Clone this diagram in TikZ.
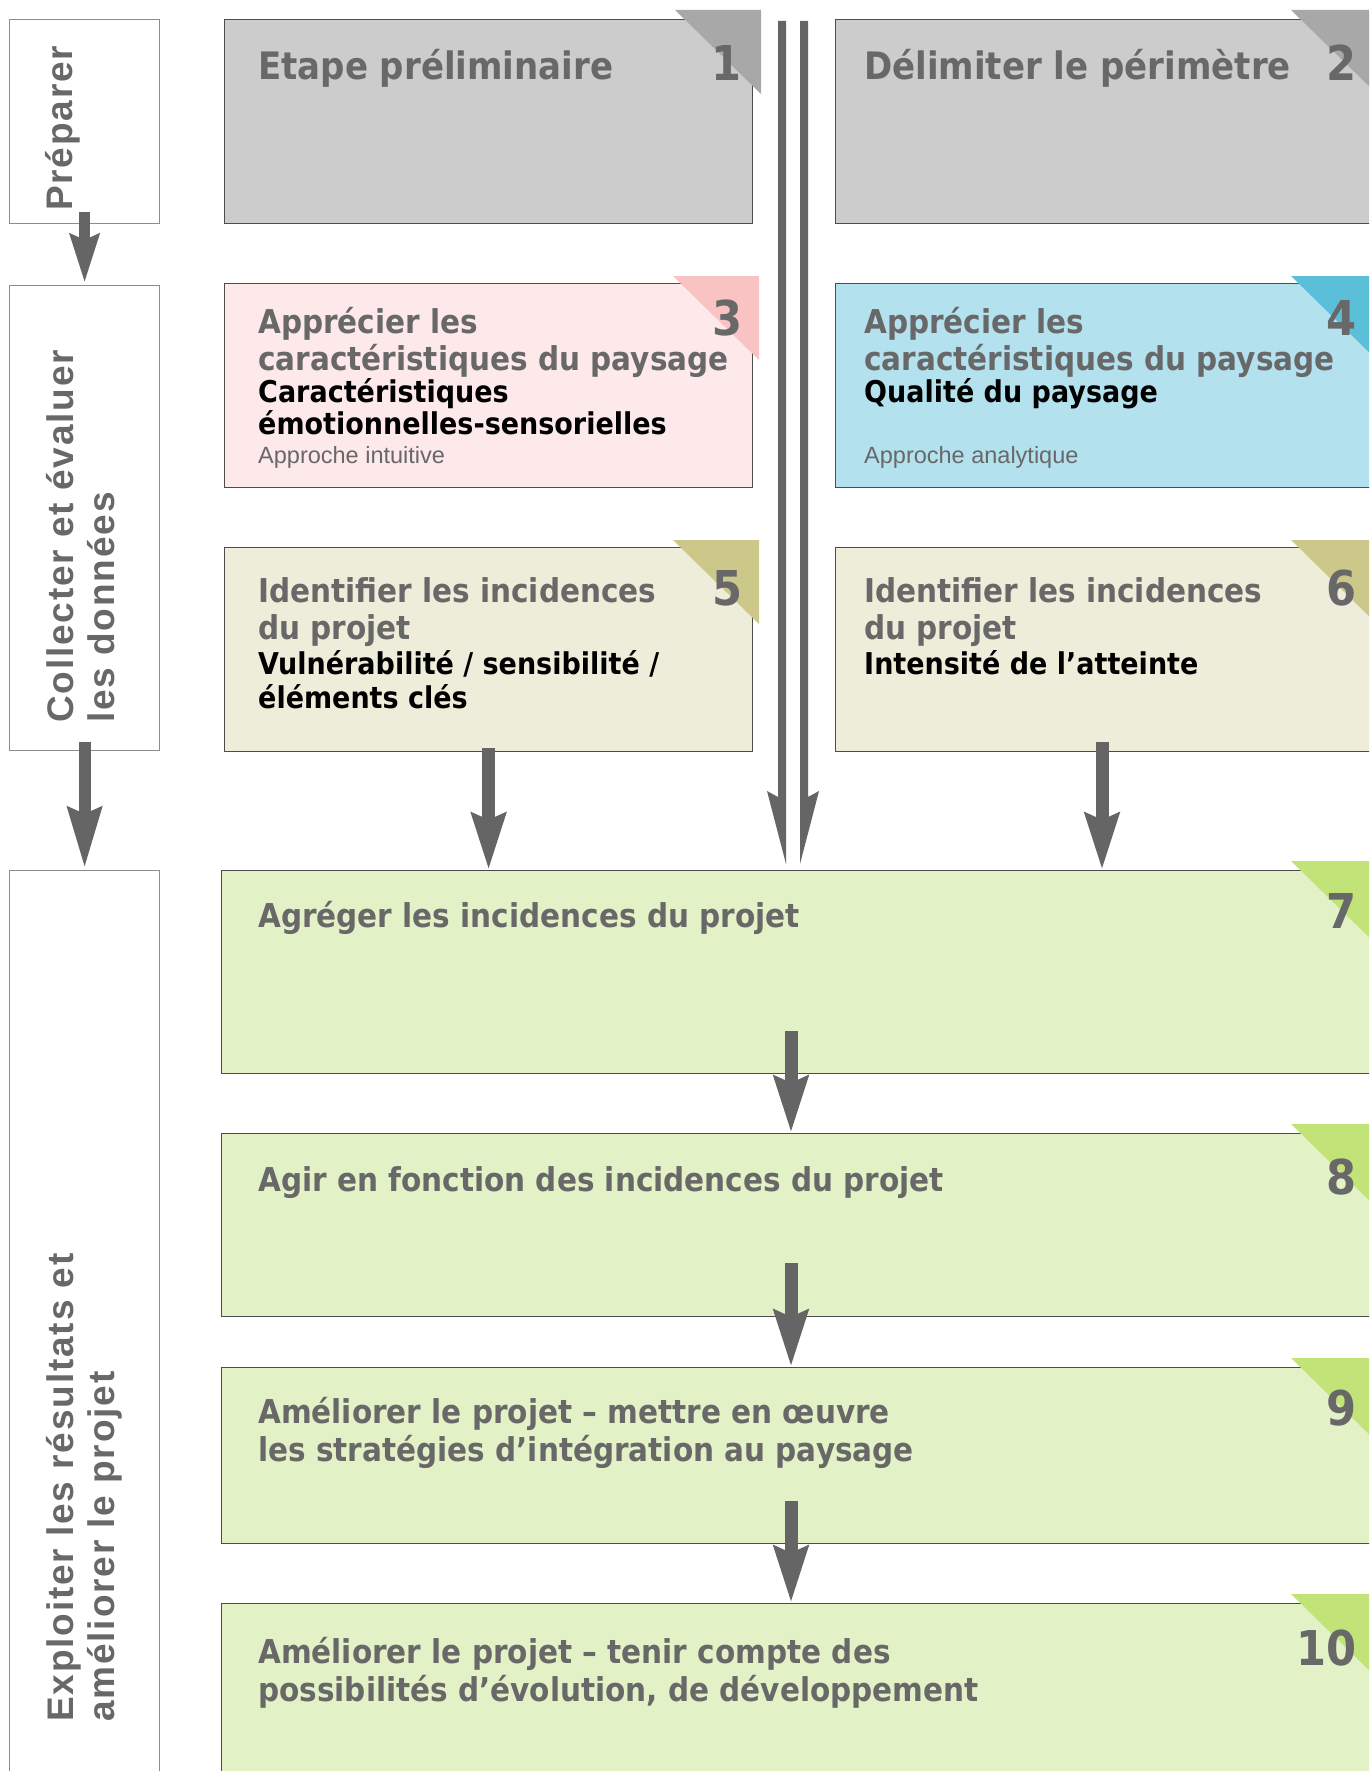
\documentclass[tikz,border=0pt]{standalone}
\usepackage{fontspec}
\usetikzlibrary{arrows.meta}
\newfontfamily\ttlfont[FakeStretch=0.9]{DejaVu Sans}
\newfontfamily\lblfont[LetterSpace=5]{Liberation Sans}
\newfontfamily\smlfont{Liberation Sans}
\definecolor{txtgray}{HTML}{686868}
\definecolor{arrgray}{HTML}{656565}
\definecolor{grayfill}{HTML}{CCCCCC}
\definecolor{graytri}{HTML}{A8A8A8}
\definecolor{pinkfill}{HTML}{FDE9E9}
\definecolor{pinktri}{HTML}{F9C3C3}
\definecolor{bluefill}{HTML}{B3E1EE}
\definecolor{bluetri}{HTML}{5BBFD9}
\definecolor{beigefill}{HTML}{EDEDDA}
\definecolor{beigetri}{HTML}{CCC88A}
\definecolor{greenfill}{HTML}{E3F2C6}
\definecolor{greentri}{HTML}{C2E378}
\begin{document}
\begin{tikzpicture}[x=1pt,y=-1pt,
  box/.style={draw=black!70, line width=1.2pt, inner sep=0pt, anchor=north west},
  lbox/.style={draw=black!45, line width=1.2pt, fill=white, inner sep=0pt, anchor=north west},
  ttl/.style={anchor=base west, inner sep=0pt, text=txtgray, font=\ttlfont\bfseries\fontsize{32.8}{36}\selectfont},
  bigttl/.style={anchor=base west, inner sep=0pt, text=txtgray, font=\ttlfont\bfseries\fontsize{37.8}{40}\selectfont},
  subttl/.style={anchor=base west, inner sep=0pt, text=black, font=\ttlfont\bfseries\fontsize{30}{32}\selectfont},
  smltxt/.style={anchor=base west, inner sep=0pt, text=txtgray, font=\smlfont\fontsize{23.5}{26}\selectfont},
  numtxt/.style={anchor=base east, inner sep=0pt, text=txtgray, font=\ttlfont\bfseries\fontsize{48}{50}\selectfont},
  lbltxt/.style={anchor=base west, rotate=90, inner sep=0pt, text=txtgray, font=\lblfont\bfseries\fontsize{37}{42}\selectfont},
  barrow/.style={draw=arrgray, line width=13pt, -{Stealth[length=56pt, width=33pt, inset=6pt]}}
]
\useasboundingbox (0,0) rectangle (1369,1771);
\clip (0,0) rectangle (1369,1771);
\fill[white] (0,0) rectangle (1369,1771);

% left phase boxes
\node[lbox, minimum width=150pt, minimum height=204pt] (l1) at (9,19) {};
\node[lbox, minimum width=150pt, minimum height=465pt] (l2) at (9,285) {};
\node[lbox, minimum width=150pt, minimum height=930pt] (l3) at (9,870) {};

\node[lbltxt] (p1) at (72,211) {Préparer};
\node[lbltxt] (p2a) at (73,723) {Collecter et évaluer};
\node[lbltxt] (p2b) at (114,723) {les données};
\node[lbltxt] (p3a) at (73,1722) {Exploiter les résultats et};
\node[lbltxt] (p3b) at (114,1722) {améliorer le projet};

% main boxes
\node[box, fill=grayfill, minimum width=528pt, minimum height=204pt] (b1) at (224,19) {};
\node[box, fill=grayfill, minimum width=560pt, minimum height=204pt] (b2) at (835,19) {};
\node[box, fill=pinkfill, minimum width=528pt, minimum height=204pt] (b3) at (224,283) {};
\node[box, fill=bluefill, minimum width=560pt, minimum height=204pt] (b4) at (835,283) {};
\node[box, fill=beigefill, minimum width=528pt, minimum height=204pt] (b5) at (224,547) {};
\node[box, fill=beigefill, minimum width=560pt, minimum height=204pt] (b6) at (835,547) {};
\node[box, fill=greenfill, minimum width=1180pt, minimum height=203pt] (b7) at (221,870) {};
\node[box, fill=greenfill, minimum width=1180pt, minimum height=183pt] (b8) at (221,1133) {};
\node[box, fill=greenfill, minimum width=1180pt, minimum height=176pt] (b9) at (221,1367) {};
\node[box, fill=greenfill, minimum width=1180pt, minimum height=220pt] (b10) at (221,1603) {};

% corner triangles
\fill[graytri] ([xshift=451pt,yshift=9pt]b1.north west) -- ++(86,0) -- ++(0,84) -- cycle;
\fill[graytri] ([xshift=456pt,yshift=9pt]b2.north west) -- ++(86,0) -- ++(0,84) -- cycle;
\fill[pinktri] ([xshift=449pt,yshift=7pt]b3.north west) -- ++(86,0) -- ++(0,84) -- cycle;
\fill[bluetri] ([xshift=456pt,yshift=7pt]b4.north west) -- ++(86,0) -- ++(0,84) -- cycle;
\fill[beigetri] ([xshift=449pt,yshift=7pt]b5.north west) -- ++(86,0) -- ++(0,84) -- cycle;
\fill[beigetri] ([xshift=456pt,yshift=7pt]b6.north west) -- ++(86,0) -- ++(0,84) -- cycle;
\fill[greentri] ([xshift=1070pt,yshift=9pt]b7.north west) -- ++(86,0) -- ++(0,84) -- cycle;
\fill[greentri] ([xshift=1070pt,yshift=9pt]b8.north west) -- ++(86,0) -- ++(0,84) -- cycle;
\fill[greentri] ([xshift=1070pt,yshift=9pt]b9.north west) -- ++(86,0) -- ++(0,84) -- cycle;
\fill[greentri] ([xshift=1070pt,yshift=9pt]b10.north west) -- ++(86,0) -- ++(0,84) -- cycle;

% numbers
\node[numtxt] (n1) at (742,81) {1};
\node[numtxt] (n2) at (1357,81) {2};
\node[numtxt] (n3) at (743,335) {3};
\node[numtxt] (n4) at (1357,335) {4};
\node[numtxt] (n5) at (743,605) {5};
\node[numtxt] (n6) at (1357,605) {6};
\node[numtxt] (n7) at (1357,928) {7};
\node[numtxt] (n8) at (1357,1194) {8};
\node[numtxt] (n9) at (1357,1425) {9};
\node[numtxt] (n10) at (1357,1665) {10};

% texts
\node[bigttl] (t1) at (258,80) {Etape préliminaire};
\node[bigttl] (t2) at (864,80) {Délimiter le périmètre};

\node[ttl] (t3a) at (258,333) {Apprécier les};
\node[ttl] (t3b) at (258,370) {caractéristiques du paysage};
\node[subttl] (t3c) at (258,402) {Caractéristiques};
\node[subttl] (t3d) at (258,434) {émotionnelles-sensorielles};
\node[smltxt] (t3e) at (258,463) {Approche intuitive};

\node[ttl] (t4a) at (864,333) {Apprécier les};
\node[ttl] (t4b) at (864,370) {caractéristiques du paysage};
\node[subttl] (t4c) at (864,402) {Qualité du paysage};
\node[smltxt] (t4e) at (864,463) {Approche analytique};

\node[ttl] (t5a) at (258,602) {Identifier les incidences};
\node[ttl] (t5b) at (258,639) {du projet};
\node[subttl] (t5c) at (258,674) {Vulnérabilité / sensibilité /};
\node[subttl] (t5d) at (258,708) {éléments clés};

\node[ttl] (t6a) at (864,602) {Identifier les incidences};
\node[ttl] (t6b) at (864,639) {du projet};
\node[subttl] (t6c) at (864,674) {Intensité de l’atteinte};

\node[ttl] (t7) at (258,927) {Agréger les incidences du projet};
\node[ttl] (t8) at (258,1191) {Agir en fonction des incidences du projet};
\node[ttl] (t9a) at (258,1423) {Améliorer le projet – mettre en œuvre};
\node[ttl] (t9b) at (258,1461) {les stratégies d’intégration au paysage};
\node[ttl] (t10a) at (258,1663) {Améliorer le projet – tenir compte des};
\node[ttl] (t10b) at (258,1701) {possibilités d’évolution, de développement};

% left arrows
\draw[draw=arrgray, line width=11pt, -{Stealth[length=48pt, width=28pt, inset=5pt]}]
  ([yshift=12pt]l1.south) -- ([yshift=2pt]l2.north);
\draw[draw=arrgray, line width=12pt, -{Stealth[length=60pt, width=33pt, inset=6pt]}]
  ([yshift=9pt]l2.south) -- ([yshift=2pt]l3.north);

% box arrows
\draw[barrow] ([yshift=4pt]b5.south) -- (b5.south |- b7.north);
\draw[barrow] ([xshift=267pt,yshift=10pt]b6.south west) -- ([xshift=267pt]b6.south west |- b7.north);
\draw[barrow] ([xshift=570pt,yshift=43pt]b7.south west) -- ([xshift=570pt]b7.south west |- b8.north);
\draw[barrow] ([xshift=570pt,yshift=54pt]b8.south west) -- ([xshift=570pt]b8.south west |- b9.north);
\draw[barrow] ([xshift=570pt,yshift=43pt]b9.south west) -- ([xshift=570pt]b9.south west |- b10.north);

% double half-headed arrows
\fill[arrgray] (778,21) -- (786,21) -- (786,864) -- (767,791) -- (778,797) -- cycle;
\fill[arrgray] (800,21) -- (808,21) -- (808,797) -- (819,791) -- (800,864) -- cycle;
\end{tikzpicture}
\end{document}
